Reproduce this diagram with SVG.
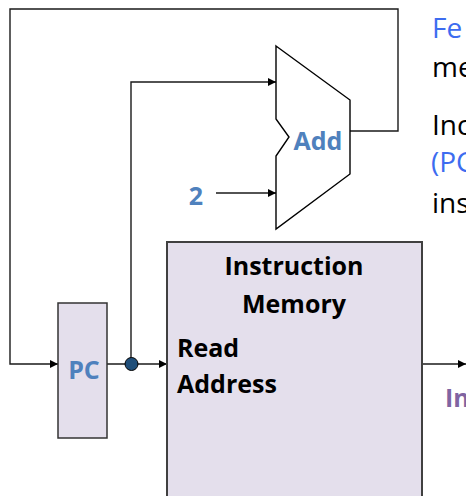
<svg xmlns="http://www.w3.org/2000/svg" width="466" height="496" viewBox="0 0 466 496">
<style>
.w{fill:none;stroke:#1a1a1a;stroke-width:1.4}
.blk{fill:#e4dfec}
.b{font-family:"Open Sans","Liberation Sans",sans-serif;font-weight:bold}
.t{font-family:"Open Sans","Liberation Sans",sans-serif;font-size:28px}
</style>
<defs>
<marker id="ah" viewBox="0 0 10 10" refX="10" refY="5" markerWidth="9" markerHeight="8" markerUnits="userSpaceOnUse" orient="auto">
<path d="M0,0 L10,5 L0,10 z" fill="#000"/>
</marker>
</defs>
<rect width="466" height="496" fill="#fff"/>
<g id="connectors">
<path class="w" d="M350,131 H398 V9 H10 V364 H58" marker-end="url(#ah)"/>
<path class="w" d="M131,364 V82 H276" marker-end="url(#ah)"/>
<path class="w" d="M216,193 H276" marker-end="url(#ah)"/>
<path class="w" d="M107,364 H167" marker-end="url(#ah)"/>
<path class="w" d="M422,364 H466" marker-end="url(#ah)"/>
</g>
<g id="adder">
<polygon points="276,46 350,100 350,174 276,229 276,156 289,137 276,119" fill="#fff" stroke="#000" stroke-width="1.4"/>
<text x="318" y="150" class="b" font-size="25" fill="#4f81bd" text-anchor="middle">Add</text>
</g>
<g id="const2">
<text x="196" y="205" class="b" font-size="25" fill="#4f81bd" text-anchor="middle">2</text>
</g>
<g id="imem">
<rect x="167" y="242" width="255" height="270" class="blk" stroke="#404040" stroke-width="2"/>
<text x="294" y="275" class="b" font-size="25" fill="#000" text-anchor="middle">Instruction</text>
<text x="294" y="313" class="b" font-size="25" fill="#000" text-anchor="middle">Memory</text>
<text x="177" y="357" class="b" font-size="25" fill="#000">Read</text>
<text x="177" y="393" class="b" font-size="25" fill="#000">Address</text>
</g>
<g id="pc">
<rect x="58" y="303" width="49" height="135" class="blk" stroke="#333" stroke-width="1.5"/>
<text x="84" y="379" class="b" font-size="25" fill="#4f81bd" text-anchor="middle">PC</text>
</g>
<g id="junction">
<circle cx="131.5" cy="364" r="6.5" fill="#1f4e79" stroke="#000" stroke-width="1"/>
</g>
<g id="inst-label">
<text x="445" y="407" class="b" font-size="25" fill="#8064a2">In</text>
</g>
<g id="side-text">
<text x="432" y="38" class="t" fill="#3d6cf0">Fe</text>
<text x="432" y="77" class="t" fill="#000">me</text>
<text x="432" y="135" class="t" fill="#000">Inc</text>
<text x="431" y="172" class="t" fill="#3d6cf0">(PC</text>
<text x="432" y="213" class="t" fill="#000">ins</text>
</g>
</svg>
